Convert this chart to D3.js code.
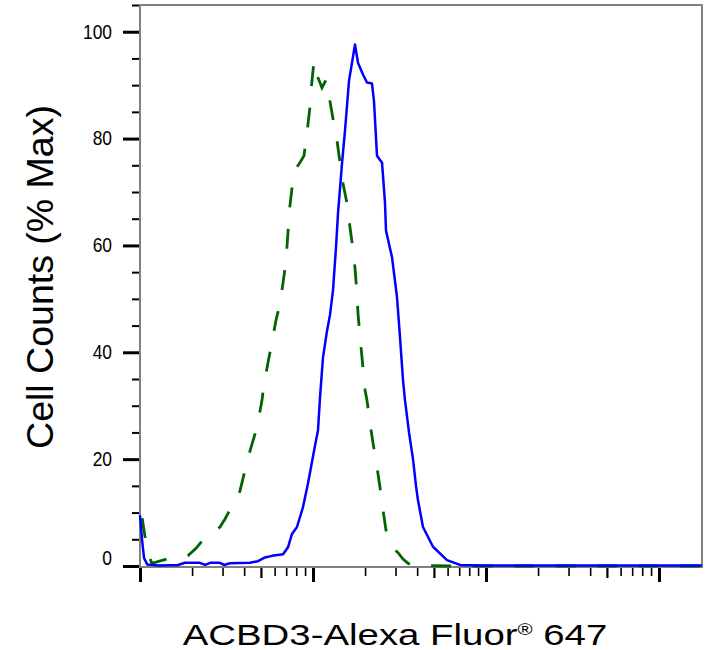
<!DOCTYPE html>
<html>
<head>
<meta charset="utf-8">
<script src="https://cdn.jsdelivr.net/npm/d3@7"></script>
<style>
body { margin: 0; background: #fff; }
text { font-family: Arial, "Liberation Sans", sans-serif; fill: #000; }
</style>
</head>
<body>
<div id="chart"></div>
<script>
// stained sample (blue, solid)
let blueX = [100, 102.7, 105.5, 110, 130, 166, 182, 222, 238, 254, 290, 306, 331, 432, 481, 528, 579,
    671, 717, 756, 808, 875, 936, 987, 1027, 1069, 1098, 1142, 1205, 1254, 1305, 1358, 1395, 1471,
    1531, 1615, 1749, 1820, 1945, 2052, 2193, 2252, 2344, 2440, 2506, 2607, 2642, 2862, 3059, 3184,
    3314, 3403, 3589, 3785, 3939, 4045, 4323, 4939, 5951, 7074, 9233, 45600, 177000];
let blueY = [9.5, 5, 1.5, 0.3, 0.1, 0.2, 0.6, 0.6, 0.2, 0.6, 0.6, 0.2, 0.5, 0.6, 0.9, 1.6, 1.9,
    2.2, 3.5, 6, 7.3, 11, 15.5, 19.5, 22.5, 25.4, 31.6, 39, 44, 47, 51.6, 59.6, 66, 75.3,
    81.5, 90.8, 97.6, 94.2, 92, 90.5, 90.3, 87, 76.8, 76, 75.5, 68, 62.8, 57.8, 50.3, 42.8,
    34.8, 31, 25, 20, 15, 12.3, 7.3, 3.6, 1.1, 0.2, 0.1, 0.1, 0.1];

// control (green, dashed)
let greenX = [100, 104, 107, 114, 117, 143, 170, 189, 211, 231, 261, 290, 310, 331, 354, 378, 405,
    432, 475, 507, 521, 549, 572, 611, 644, 671, 698, 717, 727, 756, 797, 841, 887, 923, 961, 974,
    1013, 1069, 1127, 1189, 1238, 1305, 1377, 1433, 1491, 1572, 1636, 1703, 1749, 1796, 1820, 1869,
    1920, 1998, 2052, 2136, 2223, 2344, 2440, 2538, 2642, 2787, 2979, 3100, 3314, 3541, 3735, 6193, 177000];
let greenY = [12, 8, 5.4, 1.5, 0.5, 1.3, 1.5, 1.9, 3.3, 4.9, 6, 7.3, 8.8, 10.5, 12, 14, 18,
    21.5, 26, 31, 34, 38, 41, 46, 49, 53, 57, 62.5, 66, 70.7, 74.4, 75.5, 76.8, 81, 86, 89,
    94.5, 91.4, 89.5, 91, 88, 83.7, 79.6, 75.5, 71.6, 67.9, 63.4, 59.3, 55.7, 51, 47.3, 43,
    39, 33, 31, 26.7, 23, 18.5, 14.7, 10.5, 6.7, 4.5, 3, 2.5, 1.3, 0.5, 0.1, 0, 0];

let yMajorTicks = [0, 20, 40, 60, 80, 100];
let yMinorTicks = [5, 10, 15, 25, 30, 35, 45, 50, 55, 65, 70, 75, 85, 90, 95, 105];
let xMultipliers = [1, 2, 3, 4, 5, 6, 7, 8, 9];
let xDecades = [100, 1000, 10000, 100000];

let margin = {top: 5, right: 20, bottom: 83, left: 140};
let width = 722 - margin.left - margin.right,
    height = 650 - margin.top - margin.bottom;

let root = d3.select("#chart").append("svg")
    .attr("width", 722)
    .attr("height", 650);

let svg = root.append("g")
    .attr("transform", "translate(" + margin.left + "," + margin.top + ")");

let x = d3.scaleLog()
    .domain([100, 177260])
    .range([0, width]);

let y = d3.scaleLinear()
    .domain([0, 105])
    .range([height - 1, 0]);

// all the 1..9 x 10^k ticks that fit
let xTicks = [];
xDecades.forEach(dec => {
    xMultipliers.forEach(m => {
        if (m * dec <= x.domain()[1]) xTicks.push(m * dec);
    });
});

function tickKind(v) {
    let m = Math.round(v / Math.pow(10, Math.floor(Math.log10(v) + 1e-9)));
    if (m === 1) return "major";
    if (m === 5) return "mid";
    return "minor";
}

let xAxis = d3.axisBottom(x)
    .tickValues(xTicks)
    .tickFormat("")
    .tickSizeOuter(0);

let xAxisGroup = svg.append("g")
    .attr("class", "x-axis")
    .attr("transform", "translate(0," + height + ")")
    .call(xAxis);

xAxisGroup.select(".domain").remove();
xAxisGroup.selectAll(".tick line")
    .attr("stroke", "#000")
    .attr("y2", d => tickKind(d) === "major" ? 15 : (tickKind(d) === "mid" ? 11 : 9))
    .attr("stroke-width", d => tickKind(d) === "major" ? 3 : (tickKind(d) === "mid" ? 2.2 : 1.6));

// y minor ticks
let yMinorGroup = svg.append("g")
    .call(d3.axisLeft(y).tickValues(yMinorTicks).tickFormat("").tickSize(8).tickSizeOuter(0));
yMinorGroup.select(".domain").remove();
yMinorGroup.selectAll(".tick line").attr("stroke", "#000").attr("stroke-width", 2);

// y major ticks + labels
let yMajorGroup = svg.append("g")
    .call(d3.axisLeft(y).tickValues(yMajorTicks).tickSize(17).tickSizeOuter(0));
yMajorGroup.select(".domain").remove();
yMajorGroup.selectAll(".tick line").attr("stroke", "#000").attr("stroke-width", 3);
yMajorGroup.selectAll(".tick text")
    .attr("x", null)
    .style("font-size", "20px")
    .style("font-family", "Arial, 'Liberation Sans', sans-serif")
    .attr("transform", d => d === 0 ? "translate(-28,-8) scale(0.87,1)" : "translate(-28,0) scale(0.87,1)");

// frame
svg.append("rect")
    .attr("x", 0)
    .attr("y", 0)
    .attr("width", width)
    .attr("height", height)
    .attr("fill", "none")
    .attr("stroke", "#808080")
    .attr("stroke-width", 2);

let line = d3.line()
    .x(d => x(d[0]))
    .y(d => y(d[1]));

svg.append("path")
    .datum(d3.zip(greenX, greenY))
    .attr("d", line)
    .attr("fill", "none")
    .attr("stroke", "#006400")
    .attr("stroke-width", 2.8)
    .attr("stroke-dasharray", "20,21.5")
    .attr("stroke-dashoffset", 25);

svg.append("path")
    .datum(d3.zip(blueX, blueY))
    .attr("d", line)
    .attr("fill", "none")
    .attr("stroke", "#0000ff")
    .attr("stroke-width", 2.5)
    .attr("stroke-linejoin", "round");

// axis titles
let xTitle = root.append("text")
    .attr("transform", "translate(395,645) scale(1.28,1)")
    .attr("text-anchor", "middle")
    .style("font-size", "30px");
xTitle.append("tspan").text("ACBD3-Alexa Fluor");
xTitle.append("tspan").attr("dy", -10).style("font-size", "16px").text("®");
xTitle.append("tspan").attr("dy", 10).text(" 647");

root.append("text")
    .attr("transform", "translate(53,277) rotate(-90)")
    .attr("text-anchor", "middle")
    .style("font-size", "37.5px")
    .text("Cell Counts (% Max)");
</script>
</body>
</html>
